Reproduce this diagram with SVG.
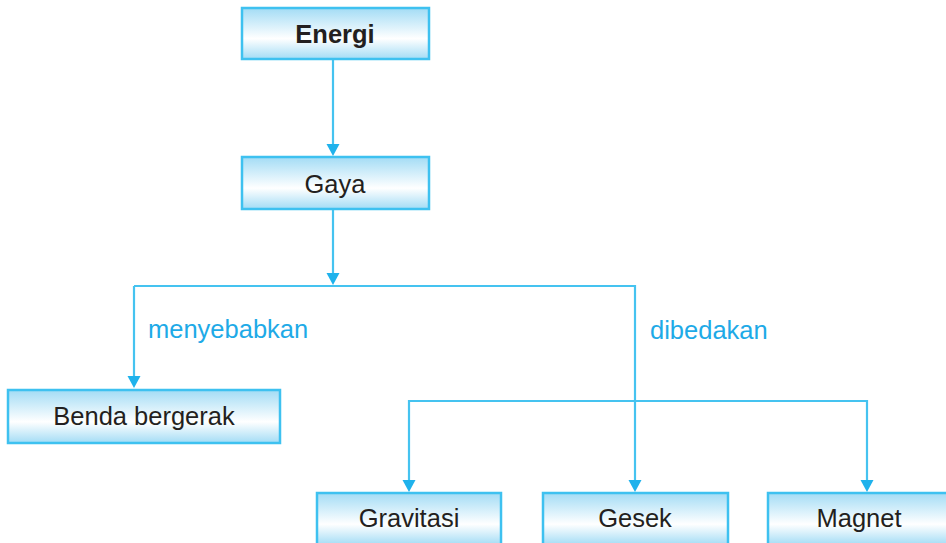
<svg xmlns="http://www.w3.org/2000/svg" width="946" height="543" viewBox="0 0 946 543">
<style>
.box{fill:url(#g);stroke:#3ec1f0;stroke-width:2.5}
.t{font-family:"Liberation Sans",Arial,sans-serif;font-size:25.5px;fill:#231f20;text-anchor:middle}
.b{font-weight:bold}
.lbl{font-family:"Liberation Sans",Arial,sans-serif;font-size:25.5px;fill:#1eaae7}
.c{fill:none;stroke:#45c3f0;stroke-width:2.2}
.ah{fill:#1fb2ec}
</style>
<defs>
<linearGradient id="g" x1="0" y1="0" x2="0" y2="1">
<stop offset="0" stop-color="#a3dcf5"/>
<stop offset="0.6" stop-color="#ffffff"/>
<stop offset="1" stop-color="#a3dcf5"/>
</linearGradient>
</defs>
<rect width="946" height="543" fill="#ffffff"/>
<g id="connectors">
<path class="c" d="M333,59 V144" />
<path class="ah" d="M326.5,144 L339.5,144 L333,156 Z"/>
<path class="c" d="M333,209 V273" />
<path class="ah" d="M326.5,273 L339.5,273 L333,285 Z"/>
<path class="c" d="M134,286 H635 V480" />
<path class="c" d="M134,286 V376" />
<path class="ah" d="M127.5,376 L140.5,376 L134,388 Z"/>
<path class="ah" d="M628.5,480 L641.5,480 L635,492 Z"/>
<path class="c" d="M409,480 V401 H867 V480" />
<path class="ah" d="M402.5,480 L415.5,480 L409,492 Z"/>
<path class="ah" d="M860.5,480 L873.5,480 L867,492 Z"/>
</g>
<g id="labels">
<text class="lbl" x="148" y="338">menyebabkan</text>
<text class="lbl" x="650" y="339">dibedakan</text>
</g>
<g id="energi">
<rect class="box" x="242" y="8" width="187" height="51"/>
<text class="t b" x="335" y="43">Energi</text>
</g>
<g id="gaya">
<rect class="box" x="242" y="157" width="187" height="52"/>
<text class="t" x="335" y="193">Gaya</text>
</g>
<g id="benda">
<rect class="box" x="8" y="390" width="272" height="53"/>
<text class="t" x="144" y="425">Benda bergerak</text>
</g>
<g id="gravitasi">
<rect class="box" x="317" y="493" width="184" height="52"/>
<text class="t" x="409" y="527">Gravitasi</text>
</g>
<g id="gesek">
<rect class="box" x="543" y="493" width="185" height="52"/>
<text class="t" x="635" y="527">Gesek</text>
</g>
<g id="magnet">
<rect class="box" x="768" y="493" width="185" height="52"/>
<text class="t" x="859" y="527">Magnet</text>
</g>
</svg>
